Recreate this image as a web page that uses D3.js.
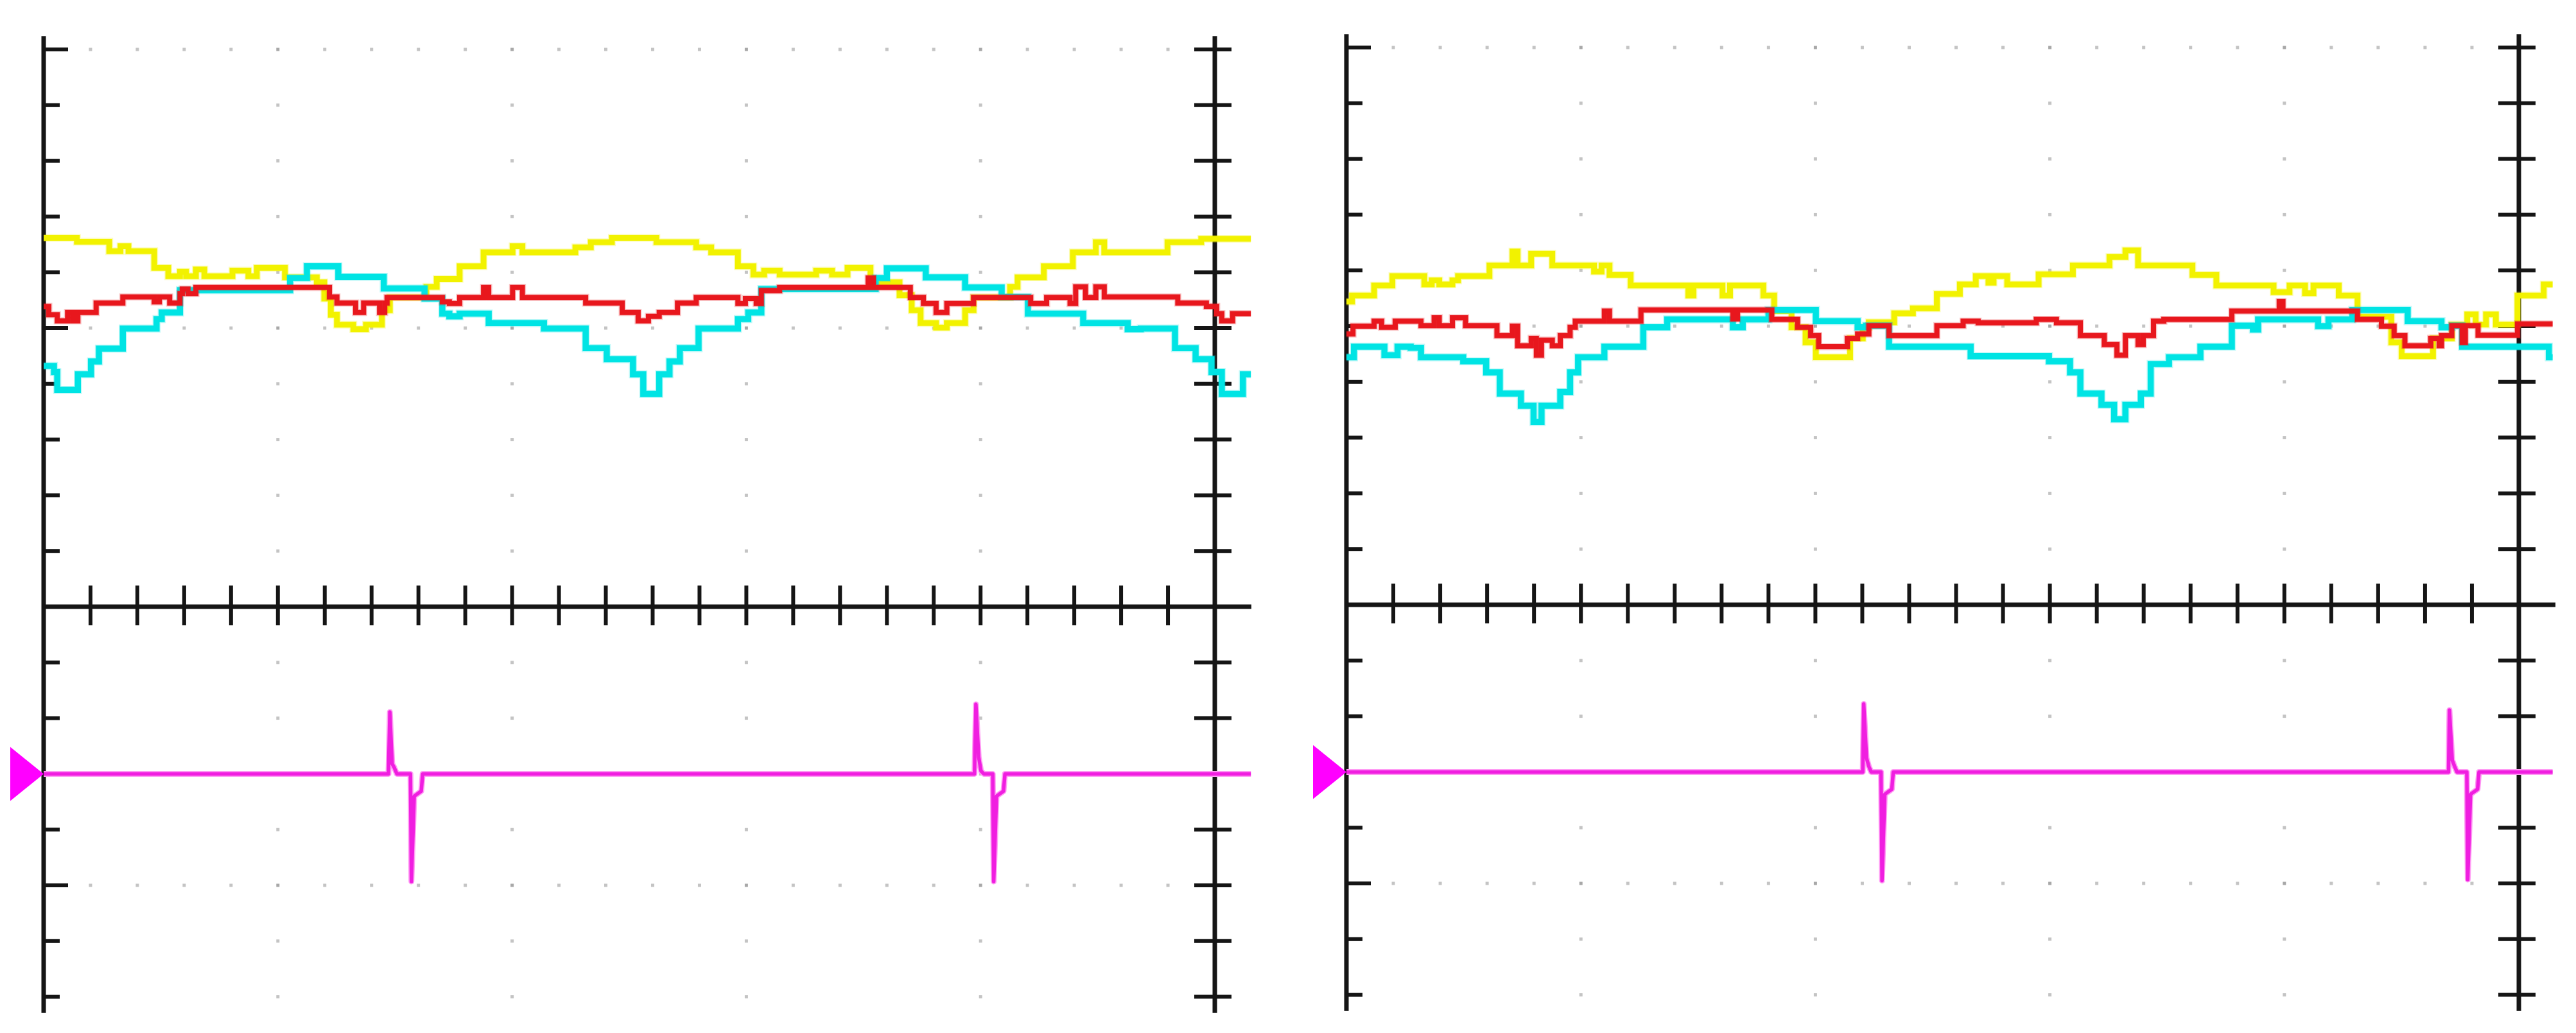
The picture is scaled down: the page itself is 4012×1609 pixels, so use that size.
<!DOCTYPE html>
<html><head><meta charset="utf-8">
<script src="https://cdn.jsdelivr.net/npm/d3@7"></script>
<style>html,body{margin:0;padding:0;background:#fff;overflow:hidden}</style>
</head><body>
<svg id="c" width="4012" height="1609"></svg>
<script>
// ---- data (time in minor divisions, amplitude in vertical divisions) ----
const xMinorTicks = d3.range(1, 25);
const yDivTicks = d3.range(-7, 11);
const yMajor = [10, 5, -5];
const xMajor = [5, 10, 15, 20];
const triggerLevel = -3;

const yellowL = [[0,6.62],[0.71,6.55],[1.40,6.38],[1.64,6.47],[1.81,6.38],[2.36,6.08],[2.66,5.93],[2.91,6.01],[3.04,5.93],[3.25,6.05],[3.43,5.93],[4.03,6.03],[4.37,5.93],[4.55,6.08],[5.15,5.91],[5.83,5.82],[5.99,5.53],[6.13,5.24],[6.26,5.06],[6.61,4.98],[6.88,5.06],[7.22,5.32],[7.39,5.55],[8.17,5.74],[8.39,5.88],[8.88,6.11],[9.39,6.36],[10.01,6.47],[10.22,6.36],[11.35,6.45],[11.68,6.54],[12.13,6.62],[13.08,6.54],[13.93,6.45],[14.25,6.36],[14.82,6.11],[15.15,5.96],[15.38,6.03],[15.71,5.96],[16.49,6.03],[16.83,5.96],[17.16,6.08],[17.65,5.82],[18.27,5.59],[18.53,5.32],[18.72,5.09],[19.05,5.01],[19.28,5.09],[19.67,5.32],[19.85,5.55],[20.63,5.74],[20.79,5.91],[21.35,6.11],[21.97,6.36],[22.46,6.54],[22.64,6.36],[23.99,6.54],[24.71,6.60],[25.77,6.60]];
const cyanL = [[0,4.32],[0.22,4.21],[0.29,3.89],[0.73,4.17],[1.01,4.40],[1.18,4.63],[1.69,4.99],[2.41,5.16],[2.52,5.28],[2.91,5.68],[5.26,5.90],[5.62,6.11],[6.29,5.92],[7.26,5.71],[8.13,5.53],[8.51,5.26],[8.66,5.21],[8.88,5.26],[9.50,5.09],[10.68,4.99],[11.57,4.64],[12.02,4.44],[12.58,4.17],[12.80,3.82],[13.14,4.17],[13.36,4.40],[13.58,4.64],[13.98,4.99],[14.82,5.16],[15.04,5.28],[15.32,5.70],[17.76,5.90],[18.00,6.07],[18.83,5.91],[19.67,5.73],[20.45,5.56],[21.01,5.26],[22.19,5.09],[23.14,4.98],[23.42,4.99],[24.15,4.64],[24.59,4.44],[24.93,4.21],[25.15,3.82],[25.60,4.17],[25.77,4.17]];
const redL = [[0,5.39],[0.11,5.24],[0.29,5.13],[0.51,5.28],[0.62,5.13],[0.73,5.28],[1.12,5.45],[1.69,5.56],[2.36,5.47],[2.47,5.56],[2.69,5.45],[2.91,5.62],[2.96,5.70],[3.08,5.62],[3.25,5.73],[6.10,5.56],[6.26,5.45],[6.66,5.28],[6.83,5.45],[7.17,5.28],[7.28,5.45],[7.33,5.55],[8.51,5.47],[8.66,5.44],[8.88,5.55],[9.39,5.73],[9.50,5.55],[10.01,5.73],[10.22,5.55],[11.57,5.45],[12.35,5.28],[12.69,5.13],[12.91,5.21],[13.14,5.28],[13.53,5.45],[13.93,5.55],[14.82,5.44],[14.98,5.53],[15.21,5.44],[15.32,5.67],[15.71,5.73],[17.60,5.90],[17.71,5.73],[18.50,5.55],[18.78,5.44],[19.05,5.28],[19.28,5.44],[19.85,5.55],[21.07,5.44],[21.41,5.55],[21.91,5.44],[22.03,5.74],[22.24,5.55],[22.46,5.74],[22.64,5.56],[24.21,5.45],[24.82,5.39],[25.04,5.26],[25.15,5.13],[25.38,5.26],[25.77,5.26]];
const magentaL = [[0,-3],[7.36,-3],[7.39,-1.89],[7.44,-2.82],[7.48,-2.88],[7.54,-3],[7.83,-3],[7.85,-4.93],[7.91,-3.40],[8.06,-3.31],[8.09,-3],[19.87,-3],[19.90,-1.75],[19.96,-2.70],[20.01,-2.95],[20.07,-3],[20.26,-3],[20.28,-4.93],[20.34,-3.40],[20.49,-3.31],[20.52,-3],[25.77,-3]];

const yellowR = [[0,5.44],[0.12,5.55],[0.59,5.73],[0.98,5.90],[1.66,5.75],[1.82,5.82],[1.98,5.75],[2.26,5.82],[2.38,5.90],[3.05,6.09],[3.54,6.34],[3.65,6.09],[3.94,6.30],[4.39,6.09],[5.28,5.98],[5.44,6.09],[5.61,5.92],[6.06,5.73],[7.29,5.55],[7.40,5.73],[8.02,5.55],[8.18,5.73],[8.89,5.55],[9.12,5.27],[9.49,4.98],[9.79,4.71],[10.01,4.44],[10.74,4.78],[11.01,4.98],[11.14,5.07],[11.68,5.23],[12.08,5.32],[12.59,5.58],[13.08,5.75],[13.42,5.90],[13.69,5.78],[13.80,5.90],[14.09,5.75],[14.76,5.93],[15.49,6.09],[16.27,6.24],[16.61,6.36],[16.88,6.09],[18.04,5.92],[18.55,5.73],[19.77,5.61],[20.11,5.73],[20.44,5.59],[20.62,5.73],[21.16,5.55],[21.56,5.17],[22.28,4.71],[22.50,4.46],[23.17,4.78],[23.57,5.03],[23.90,5.21],[24.08,5.03],[24.30,5.21],[24.51,5.03],[24.97,5.55],[25.53,5.75],[25.72,5.75]];
const cyanR = [[0,4.44],[0.16,4.63],[0.81,4.48],[1.09,4.63],[1.37,4.61],[1.59,4.44],[2.49,4.37],[2.98,4.17],[3.27,3.79],[3.72,3.57],[3.99,3.28],[4.16,3.57],[4.56,3.82],[4.77,4.17],[4.94,4.44],[5.50,4.63],[6.33,4.98],[6.84,5.12],[8.24,4.98],[8.45,5.12],[9.00,5.29],[10.01,5.09],[10.90,4.98],[11.08,5.01],[11.57,4.63],[13.31,4.46],[14.98,4.37],[15.43,4.17],[15.65,3.79],[16.10,3.59],[16.37,3.33],[16.61,3.59],[16.94,3.79],[17.15,4.32],[17.54,4.44],[18.21,4.63],[18.88,5.01],[19.33,4.94],[19.44,5.12],[20.72,5.00],[20.94,5.12],[21.45,5.29],[22.63,5.09],[23.35,4.98],[23.57,5.01],[23.79,4.63],[23.97,4.63],[25.64,4.44],[25.72,4.44]];
const redR = [[0,4.86],[0.14,5.00],[0.59,5.09],[0.75,4.98],[1.04,5.09],[1.59,5.01],[1.87,5.15],[1.98,5.01],[2.26,5.15],[2.54,5.01],[3.21,4.83],[3.54,5.00],[3.65,4.65],[3.94,4.78],[4.05,4.48],[4.16,4.75],[4.39,4.65],[4.56,4.83],[4.77,4.98],[4.88,5.09],[5.50,5.27],[5.61,5.09],[6.28,5.29],[8.24,5.13],[8.34,5.29],[9.07,5.12],[9.62,4.98],[9.90,4.83],[10.07,4.63],[10.68,4.78],[10.90,4.86],[11.14,5.01],[11.57,4.83],[12.59,5.01],[13.15,5.09],[13.47,5.06],[14.71,5.12],[15.14,5.06],[15.65,4.83],[16.16,4.67],[16.43,4.48],[16.61,4.83],[16.88,4.67],[16.99,4.83],[17.21,5.09],[17.43,5.12],[18.88,5.27],[19.89,5.44],[19.97,5.27],[21.56,5.12],[22.07,5.00],[22.34,4.83],[22.57,4.65],[23.12,4.78],[23.30,4.65],[23.35,4.83],[23.57,5.01],[23.79,4.71],[23.86,5.01],[24.13,4.84],[24.97,5.04],[25.72,5.04]];
const magentaR = [[0,-3],[11.01,-3],[11.03,-1.78],[11.09,-2.75],[11.14,-2.90],[11.19,-3],[11.40,-3],[11.42,-4.95],[11.48,-3.40],[11.63,-3.31],[11.66,-3],[23.50,-3],[23.52,-1.89],[23.58,-2.79],[23.63,-2.90],[23.68,-3],[23.89,-3],[23.91,-4.93],[23.97,-3.40],[24.12,-3.31],[24.15,-3],[25.72,-3]];

// ---- layout / style ----
const panels = [
  {x0: 68,   x1: 1892, yZero: 945, yTop: 77, yellow: yellowL, cyan: cyanL, red: redL, magenta: magentaL},
  {x0: 2097, x1: 3923, yZero: 942, yTop: 74, yellow: yellowR, cyan: cyanR, red: redR, magenta: magentaR}
];
const COL = {yellow: "#f2f200", cyan: "#00e4e4", red: "#e8171d", magenta: "#f01ee0", axis: "#151515", dot: "#c4c4c4"};

const svg = d3.select("#c");
svg.append("rect").attr("width", 4012).attr("height", 1609).attr("fill", "#fff");

panels.forEach(p => {
  const x = d3.scaleLinear().domain([0, 25]).range([p.x0, p.x1]);
  const y = d3.scaleLinear().domain([0, 10]).range([p.yZero, p.yTop]);
  const g = svg.append("g");

  // grid dots
  const dots = [];
  yMajor.forEach(v => xMinorTicks.forEach(t => dots.push([t, v])));
  xMajor.forEach(t => yDivTicks.forEach(v => { if (v !== 0 && !yMajor.includes(v)) dots.push([t, v]); }));
  g.selectAll("rect.dot").data(dots).join("rect").attr("class", "dot")
    .attr("x", d => x(d[0]) - 2.5).attr("y", d => y(d[1]) - 2.5)
    .attr("width", 5).attr("height", 5)
    .attr("fill", d => (xMajor.includes(d[0]) && yMajor.includes(d[1])) ? "#a8a8a8" : COL.dot);

  const yTopEdge = y(10.24), yBottomEdge = y(-7.29);
  // vertical axes
  g.append("line").attr("x1", x(0)).attr("x2", x(0)).attr("y1", yTopEdge).attr("y2", yBottomEdge)
    .attr("stroke", COL.axis).attr("stroke-width", 7);
  g.append("line").attr("x1", x(25)).attr("x2", x(25)).attr("y1", yTopEdge).attr("y2", yBottomEdge)
    .attr("stroke", COL.axis).attr("stroke-width", 7);
  // middle horizontal axis
  g.append("line").attr("x1", x(0)).attr("x2", x(25.78)).attr("y1", y(0)).attr("y2", y(0))
    .attr("stroke", COL.axis).attr("stroke-width", 7);

  const yTickVals = yDivTicks.filter(v => v !== 0);
  // left axis ticks
  g.selectAll("line.lt").data(yTickVals).join("line").attr("class", "lt")
    .attr("x1", x(0)).attr("x2", d => x(0) + (yMajor.includes(d) ? 38 : 25))
    .attr("y1", d => y(d)).attr("y2", d => y(d))
    .attr("stroke", COL.axis).attr("stroke-width", 6);
  // right axis ticks
  g.selectAll("line.rt").data(yTickVals).join("line").attr("class", "rt")
    .attr("x1", x(25) - 32).attr("x2", x(25) + 26)
    .attr("y1", d => y(d)).attr("y2", d => y(d))
    .attr("stroke", COL.axis).attr("stroke-width", 6);
  // middle axis ticks
  g.selectAll("line.mt").data(xMinorTicks).join("line").attr("class", "mt")
    .attr("x1", d => x(d)).attr("x2", d => x(d))
    .attr("y1", y(0) - 33).attr("y2", y(0) + 29)
    .attr("stroke", COL.axis).attr("stroke-width", 6);

  // traces
  const step = d3.line().x(d => x(d[0])).y(d => y(d[1])).curve(d3.curveStepAfter);
  const lin = d3.line().x(d => x(d[0])).y(d => y(d[1]));
  [["yellow", 9], ["cyan", 9.5], ["red", 8]].forEach(([k, w]) => {
    g.append("path").attr("d", step(p[k])).attr("fill", "none")
      .attr("stroke", COL[k]).attr("stroke-width", w + 3).attr("stroke-opacity", 0.25)
      .attr("stroke-linejoin", "miter");
    g.append("path").attr("d", step(p[k])).attr("fill", "none")
      .attr("stroke", COL[k]).attr("stroke-width", w)
      .attr("stroke-linejoin", "miter").attr("stroke-linecap", "butt");
  });
  g.append("path").attr("d", lin(p.magenta)).attr("fill", "none")
    .attr("stroke", "#ff9cf4").attr("stroke-width", 9).attr("stroke-linejoin", "round");
  g.append("path").attr("d", lin(p.magenta)).attr("fill", "none")
    .attr("stroke", COL.magenta).attr("stroke-width", 5.5).attr("stroke-linejoin", "round");

  // trigger marker
  const ty = y(triggerLevel), tx = x(0);
  g.append("path").attr("d", `M${tx},${ty} L${tx - 52},${ty - 42} L${tx - 52},${ty + 42} Z`)
    .attr("fill", "#ff00ff");
});
</script>
</body></html>
